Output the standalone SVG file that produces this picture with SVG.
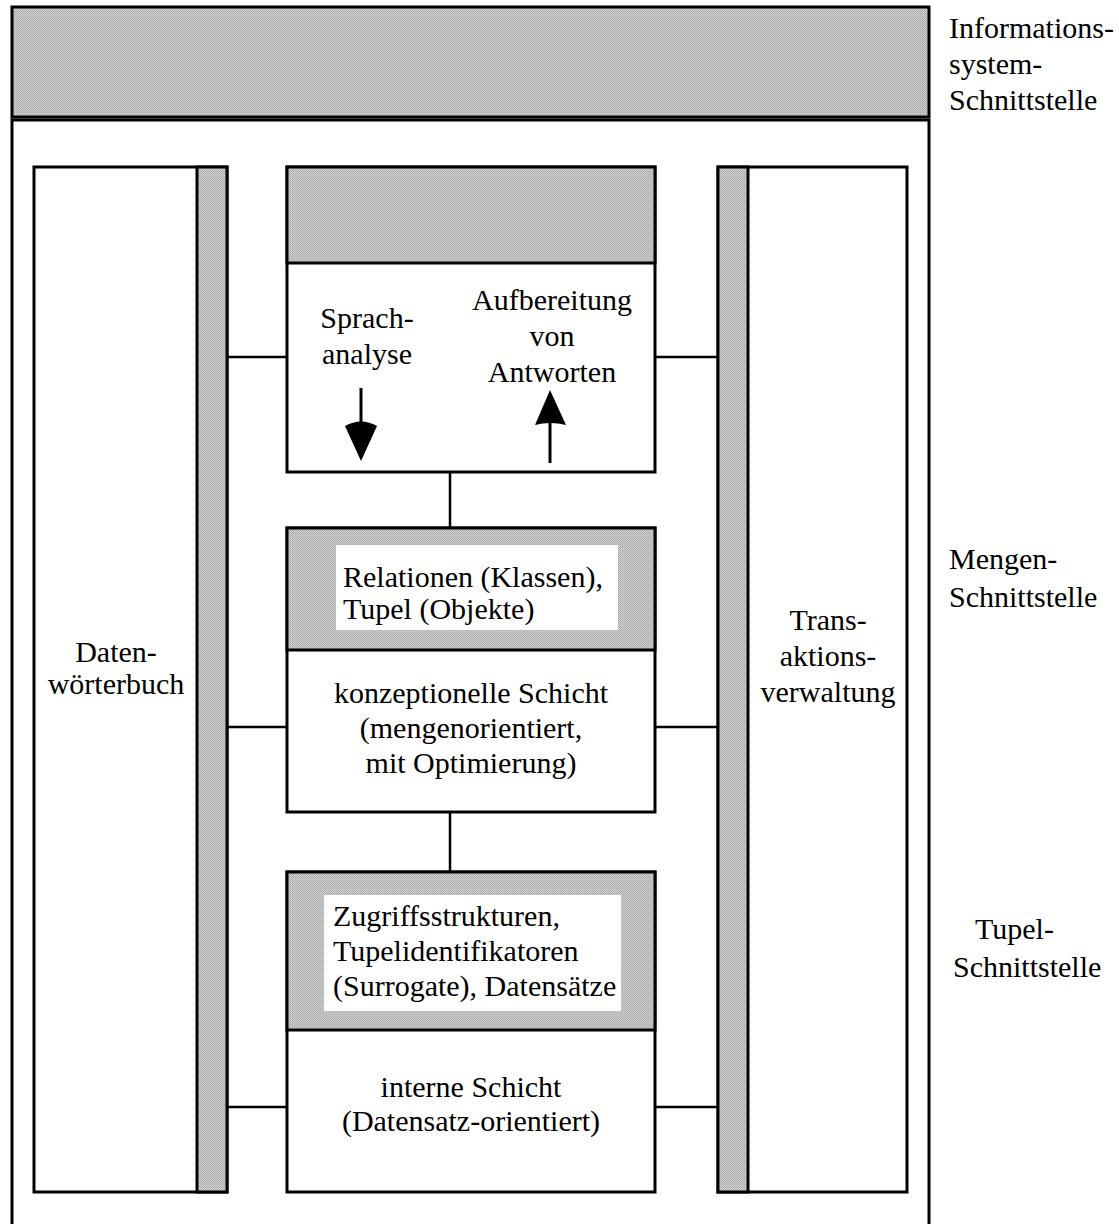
<svg xmlns="http://www.w3.org/2000/svg" width="1119" height="1224" viewBox="0 0 1119 1224">
  <defs>
    <pattern id="dots" width="2" height="2" patternUnits="userSpaceOnUse">
      <rect width="2" height="2" fill="#cdcdcd"/>
      <rect width="1" height="1" fill="#a9a9a9"/>
      <rect x="1" y="1" width="1" height="1" fill="#b8b8b8"/>
    </pattern>
  </defs>
  <style>
    .box { fill: #ffffff; stroke: #000; stroke-width: 3; }
    .shade { fill: url(#dots); stroke: #000; stroke-width: 3; }
    .line { stroke: #000; stroke-width: 3; fill: none; }
    .link { stroke: #000; stroke-width: 2.5; fill: none; }
    .label { stroke: none; fill: #ffffff; }
    text { font-family: "Liberation Serif", "Times New Roman", serif; font-size: 30px; fill: #000; }
    .c { text-anchor: middle; }
  </style>

  <!-- information system interface bar -->
  <g id="top-bar">
    <rect class="shade" x="12" y="7" width="917" height="110"/>
  </g>

  <!-- enclosing frame, open at the bottom -->
  <g id="frame">
    <path class="line" d="M12,1230 V120 H929 V1230"/>
  </g>

  <!-- data dictionary column -->
  <g id="datenwoerterbuch">
    <rect class="box" x="34" y="167" width="193" height="1025"/>
    <rect class="shade" x="197" y="167" width="30" height="1025"/>
    <text class="c" x="116" y="662">Daten-</text>
    <text class="c" x="116" y="694">wörterbuch</text>
  </g>

  <!-- transaction management column -->
  <g id="transaktionsverwaltung">
    <rect class="box" x="718" y="167" width="189" height="1025"/>
    <rect class="shade" x="718" y="167" width="30" height="1025"/>
    <text class="c" x="828" y="630">Trans-</text>
    <text class="c" x="828" y="666">aktions-</text>
    <text class="c" x="828" y="702">verwaltung</text>
  </g>

  <!-- language layer -->
  <g id="sprachschicht">
    <rect class="box" x="287" y="167" width="368" height="305"/>
    <rect class="shade" x="287" y="167" width="368" height="96"/>
    <text class="c" x="367" y="328">Sprach-</text>
    <text class="c" x="367" y="364">analyse</text>
    <text class="c" x="552" y="310">Aufbereitung</text>
    <text class="c" x="552" y="346">von</text>
    <text class="c" x="552" y="382">Antworten</text>
    <path class="line" d="M361,388 V428"/>
    <path d="M345,426 Q361,417 377,426 L361,461 Z" fill="#000"/>
    <path class="line" d="M550,423 V463"/>
    <path d="M535,425 Q550,421 566,425 L550,390 Z" fill="#000"/>
  </g>

  <!-- conceptual layer -->
  <g id="konzeptionelle-schicht">
    <rect class="box" x="287" y="528" width="368" height="284"/>
    <rect class="shade" x="287" y="528" width="368" height="122"/>
    <rect class="label" x="336" y="545" width="282" height="85"/>
    <text x="343" y="587">Relationen (Klassen),</text>
    <text x="343" y="619">Tupel (Objekte)</text>
    <text class="c" x="471" y="703">konzeptionelle Schicht</text>
    <text class="c" x="471" y="738">(mengenorientiert,</text>
    <text class="c" x="471" y="773">mit Optimierung)</text>
  </g>

  <!-- internal layer -->
  <g id="interne-schicht">
    <rect class="box" x="287" y="872" width="368" height="320"/>
    <rect class="shade" x="287" y="872" width="368" height="158"/>
    <rect class="label" x="324" y="895" width="297" height="116"/>
    <text x="333" y="926">Zugriffsstrukturen,</text>
    <text x="333" y="961">Tupelidentifikatoren</text>
    <text x="333" y="996">(Surrogate), Datensätze</text>
    <text class="c" x="471" y="1097">interne Schicht</text>
    <text class="c" x="471" y="1131">(Datensatz-orientiert)</text>
  </g>

  <!-- interface names -->
  <g id="schnittstellen">
    <text x="949" y="38">Informations-</text>
    <text x="949" y="74">system-</text>
    <text x="949" y="110">Schnittstelle</text>
    <text x="949" y="569">Mengen-</text>
    <text x="949" y="607">Schnittstelle</text>
    <text x="975" y="939">Tupel-</text>
    <text x="953" y="977">Schnittstelle</text>
  </g>

  <!-- connectors -->
  <g id="connectors">
    <path class="link" d="M450,472 V528"/>
    <path class="link" d="M450,812 V872"/>
    <path class="link" d="M227,357 H287"/>
    <path class="link" d="M655,357 H718"/>
    <path class="link" d="M227,727 H287"/>
    <path class="link" d="M655,727 H718"/>
    <path class="link" d="M227,1107 H287"/>
    <path class="link" d="M655,1107 H718"/>
  </g>
</svg>
